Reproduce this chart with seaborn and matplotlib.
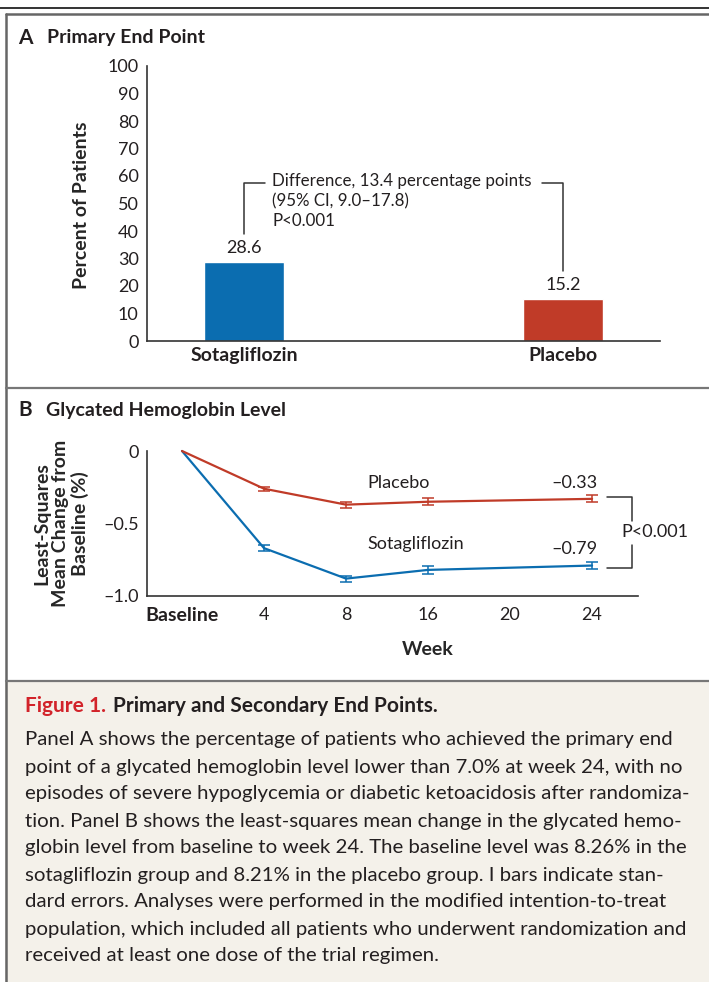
import pandas as pd
import matplotlib.pyplot as plt
from matplotlib.lines import Line2D
from matplotlib.patches import Rectangle
import seaborn as sns

# Panel A: primary end point
groups = ['Sotagliflozin', 'Placebo']
percent_patients = [28.6, 15.2]

# Panel B: glycated hemoglobin change
week_labels = ['Baseline', '4', '8', '16', '20', '24']
weeks_measured = ['Baseline', '4', '8', '16', '24']
sota_change = [0.0, -0.67, -0.88, -0.82, -0.79]
sota_se = [0.0, 0.02, 0.02, 0.025, 0.025]
placebo_change = [0.0, -0.26, -0.37, -0.35, -0.33]
placebo_se = [0.0, 0.015, 0.02, 0.025, 0.025]

BLUE = '#0b6db0'
RED = '#c03b28'
INK = '#231f20'
W, H = 709, 982
FS = 13      # axis text
FSB = 14     # bold labels


def fx(x):
    return x / W


def fy(y):
    return 1 - y / H


if __name__ == '__main__':
    sns.set_style('white')
    plt.rcParams['font.family'] = ['Lato', 'DejaVu Sans']
    plt.rcParams['text.color'] = INK
    plt.rcParams['axes.edgecolor'] = '#333333'
    plt.rcParams['xtick.color'] = INK
    plt.rcParams['ytick.color'] = INK

    fig = plt.figure(figsize=(W / 100, H / 100), dpi=100)

    # frame and dividers
    fig.add_artist(Rectangle((fx(5), 0), 1 - fx(5), fy(682), transform=fig.transFigure,
                             facecolor='#f4f1ea', edgecolor='none', zorder=0))
    fig.add_artist(Line2D([0, 1], [fy(7.5), fy(7.5)], transform=fig.transFigure, color='#111111', lw=1.2))
    fig.add_artist(Line2D([fx(5.5), 1], [fy(14), fy(14)], transform=fig.transFigure, color='#666666', lw=1.8))
    fig.add_artist(Line2D([fx(5.5), fx(5.5)], [fy(14), 0], transform=fig.transFigure, color='#666666', lw=1.8))
    fig.add_artist(Line2D([fx(5.5), 1], [fy(388), fy(388)], transform=fig.transFigure, color='#777777', lw=1.6))
    fig.add_artist(Line2D([fx(5.5), 1], [fy(681), fy(681)], transform=fig.transFigure, color='#777777', lw=1.6))

    fig.text(fx(18), fy(38), 'A', fontsize=15, fontweight='bold', va='center')
    fig.text(fx(47), fy(38), 'Primary End Point', fontsize=14, fontweight='bold', va='center')
    fig.text(fx(18), fy(410), 'B', fontsize=15, fontweight='bold', va='center')
    fig.text(fx(46), fy(410), 'Glycated Hemoglobin Level', fontsize=14, fontweight='bold', va='center')

    # ---------------- Panel A ----------------
    axA = fig.add_axes([fx(147), fy(341), fx(660) - fx(147), fy(66) - fy(341)])
    dfA = pd.DataFrame({'group': groups, 'percent': percent_patients})
    sns.barplot(data=dfA, x='group', y='percent', hue='group',
                palette={'Sotagliflozin': BLUE, 'Placebo': RED},
                width=0.25, legend=False, saturation=1, ax=axA)
    axA.set_xlim(-0.304, 1.304)
    axA.set_ylim(0, 100)
    axA.set_yticks(range(0, 101, 10))
    axA.tick_params(axis='y', direction='out', length=5, width=1.1, labelsize=FS, pad=1)
    axA.tick_params(axis='x', length=0, labelsize=FSB, pad=4)
    for lab in axA.get_xticklabels():
        lab.set_fontweight('bold')
    axA.set_xlabel('')
    axA.set_ylabel('Percent of Patients', fontsize=FSB, fontweight='bold')
    axA.yaxis.set_label_coords(-0.111, 0.495)
    sns.despine(ax=axA)
    for s in ['left', 'bottom']:
        axA.spines[s].set_linewidth(1.2)

    for i, v in enumerate(percent_patients):
        axA.text(i, v + 2.2, f'{v:.1f}', ha='center', va='bottom', fontsize=FS)

    # difference bracket
    axA.plot([0, 0, 0.066], [38.9, 57.5, 57.5], color='#333333', lw=1.1, clip_on=False)
    axA.plot([0.935, 1, 1], [57.5, 57.5, 25.5], color='#333333', lw=1.1, clip_on=False)
    axA.text(0.088, 61.0, 'Difference, 13.4 percentage points\n(95% CI, 9.0\u201317.8)\nP<0.001',
             ha='left', va='top', fontsize=12.2, linespacing=1.28)

    # ---------------- Panel B ----------------
    axB = fig.add_axes([fx(147), fy(596), fx(638) - fx(147), fy(451) - fy(596)])
    pos = [week_labels.index(w) for w in weeks_measured]
    dfB = pd.DataFrame({
        'pos': pos * 2,
        'change': sota_change + placebo_change,
        'se': sota_se + placebo_se,
        'group': ['Sotagliflozin'] * len(pos) + ['Placebo'] * len(pos),
    })
    pal = {'Sotagliflozin': BLUE, 'Placebo': RED}
    sns.lineplot(data=dfB, x='pos', y='change', hue='group', palette=pal,
                 legend=False, lw=1.6, ax=axB, clip_on=False)
    for g, c in pal.items():
        sub = dfB[(dfB['group'] == g) & (dfB['se'] > 0)]
        axB.errorbar(sub['pos'], sub['change'], yerr=sub['se'], fmt='none', ecolor=c,
                     elinewidth=1.1, capsize=4, capthick=1.1, clip_on=False)

    axB.set_xlim(-0.427, 5.56)
    axB.set_ylim(-1.0, 0)
    axB.set_yticks([0, -0.5, -1.0])
    axB.set_yticklabels(['0', '\u20130.5', '\u20131.0'])
    axB.set_xticks(range(len(week_labels)))
    axB.set_xticklabels(week_labels)
    axB.tick_params(axis='both', direction='out', length=5, width=1.1, labelsize=FS, pad=3)
    axB.tick_params(axis='y', pad=1)
    axB.get_xticklabels()[0].set_fontweight('bold')
    axB.get_xticklabels()[0].set_fontsize(FSB)
    axB.set_xlabel('Week', fontsize=FSB, fontweight='bold')
    axB.xaxis.set_label_coords((428 - 147) / (638 - 147), -0.31)
    axB.set_ylabel('Least-Squares\nMean Change from\nBaseline (%)', fontsize=FSB,
                   fontweight='bold', linespacing=1.12)
    axB.yaxis.set_label_coords(-0.118, 0.5)
    sns.despine(ax=axB)
    for s in ['left', 'bottom']:
        axB.spines[s].set_linewidth(1.2)

    axB.text(2.256, -0.22, 'Placebo', ha='left', va='center', fontsize=FS)
    axB.text(2.256, -0.64, 'Sotagliflozin', ha='left', va='center', fontsize=FS)
    axB.text(4.79, -0.22, '\u20130.33', ha='center', va='center', fontsize=FS)
    axB.text(4.79, -0.676, '\u20130.79', ha='center', va='center', fontsize=FS)

    # P-value bracket
    axB.plot([5.18, 5.49, 5.49], [-0.317, -0.317, -0.483], color='#333333', lw=1.1, clip_on=False)
    axB.plot([5.18, 5.49, 5.49], [-0.807, -0.807, -0.648], color='#333333', lw=1.1, clip_on=False)
    axB.text(5.77, -0.562, 'P<0.001', ha='center', va='center', fontsize=FS)

    # ---------------- Caption ----------------
    t1 = fig.text(fx(25), fy(706), 'Figure 1. ', color='#d2232a', fontsize=15,
                  fontweight='bold', va='center')
    fig.canvas.draw()
    bb = t1.get_window_extent()
    fig.text(bb.x1 / W + 0.002, fy(706), 'Primary and Secondary End Points.', fontsize=15,
             fontweight='bold', va='center')
    caption = [
        'Panel A shows the percentage of patients who achieved the primary end',
        'point of a glycated hemoglobin level lower than 7.0% at week 24, with no',
        'episodes of severe hypoglycemia or diabetic ketoacidosis after randomiza-',
        'tion. Panel B shows the least-squares mean change in the glycated hemo-',
        'globin level from baseline to week 24. The baseline level was 8.26% in the',
        'sotagliflozin group and 8.21% in the placebo group. I bars indicate stan-',
        'dard errors. Analyses were performed in the modified intention-to-treat',
        'population, which included all patients who underwent randomization and',
        'received at least one dose of the trial regimen.',
    ]
    for i, line in enumerate(caption):
        fig.text(fx(25), fy(740 + 27 * i), line, fontsize=14.7, va='center')

    fig.savefig('out.png', dpi=100)
